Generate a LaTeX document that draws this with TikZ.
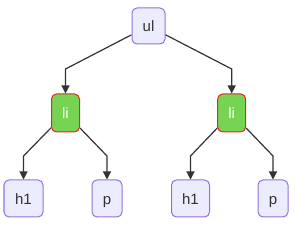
\documentclass[tikz,border=0pt]{standalone}
\usepackage{fontspec}
\setmainfont{Liberation Sans}
\usetikzlibrary{arrows.meta}
\definecolor{nfill}{HTML}{ECECFF}
\definecolor{nstroke}{HTML}{9370DB}
\definecolor{lfill}{HTML}{77D352}
\definecolor{lstroke}{HTML}{EE2222}
\definecolor{edge}{HTML}{333333}
\begin{document}
\begin{tikzpicture}[x=1pt,y=-1pt,
  base/.style={line width=1pt,rounded corners=5pt,inner sep=0pt,
    text height=11.5pt,text depth=0pt,font=\fontsize{15}{15}\selectfont},
  plain/.style={base,draw=nstroke,fill=nfill,text=edge},
  green/.style={base,draw=lstroke,fill=lfill,text=white,
    minimum width=28pt,minimum height=38pt},
  arr/.style={draw=edge,line width=1.2pt,-{Triangle[length=8pt,width=8pt]}}]
\useasboundingbox (0,0) rectangle (298,232);
\node[plain,minimum width=33pt,minimum height=36pt] (ul) at (148.5,26) {ul};
\node[green] (li1) at (65.5,113) {li};
\node[green] (li2) at (231.7,113) {li};
\node[plain,minimum width=39pt,minimum height=37pt] (h1a) at (23.5,198.5) {h1};
\node[plain,minimum width=30pt,minimum height=37pt] (pa) at (107,198.5) {p};
\node[plain,minimum width=38pt,minimum height=37pt] (h1b) at (190.5,198.5) {h1};
\node[plain,minimum width=30pt,minimum height=37pt] (pb) at (273,198.5) {p};
\coordinate (c1) at (65.5,69);
\coordinate (c2) at (231.7,69);
\coordinate (c3) at (23.5,156);
\coordinate (c4) at (107,156);
\coordinate (c5) at (190.5,156);
\coordinate (c6) at (273,156);
\draw[arr] (ul) -- (c1) -- (li1);
\draw[arr] (ul) -- (c2) -- (li2);
\draw[arr] (li1) -- (c3) -- (h1a);
\draw[arr] (li1) -- (c4) -- (pa);
\draw[arr] (li2) -- (c5) -- (h1b);
\draw[arr] (li2) -- (c6) -- (pb);
\end{tikzpicture}
\end{document}
